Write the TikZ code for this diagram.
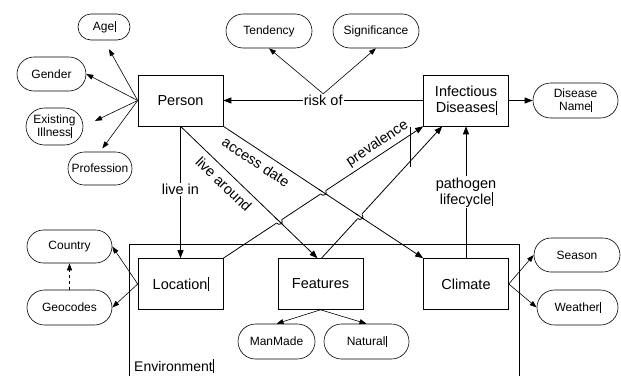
\documentclass[tikz,border=0pt]{standalone}
\usepackage{fontspec}
\setmainfont{Liberation Sans}
\usetikzlibrary{arrows.meta,shapes.misc,calc,intersections}
\newcommand\crsr{\kern0.3pt\rule[-0.12em]{0.5pt}{0.95em}}
\newcommand\hopover[5]{% #1 crossing, #2,#3 ends of hopping line, #4,#5 ends of other line
  \path coordinate (hpA) at ($(#1)!3pt!(#2)$) coordinate (hpB) at ($(#1)!3pt!(#3)$);
  \path coordinate (hpC) at ($(hpA)!4pt!-90:(#1)$) coordinate (hpD) at ($(hpB)!4pt!90:(#1)$);
  \draw[white, line width=2pt] (hpA) -- (hpB);
  \draw[line width=0.8pt] ($(#1)!5pt!(#4)$) -- ($(#1)!5pt!(#5)$);
  \draw[line width=0.8pt] (hpA) .. controls (hpC) and (hpD) .. (hpB);
}
\begin{document}
\begin{tikzpicture}[x=1pt,y=-1pt,
  box/.style={draw, line width=0.6pt, minimum width=85pt, minimum height=51pt, inner sep=0pt, font=\fontsize{14.5}{16}\selectfont, align=center},
  attr/.style={draw, rounded rectangle, line width=0.6pt, inner sep=0pt, font=\fontsize{12}{13.5}\selectfont, align=center},
  con/.style={line width=0.8pt, -{Triangle[length=8pt,width=6pt]}},
  thinar/.style={line width=0.6pt, -{Triangle[length=7pt,width=5pt]}},
  lbl/.style={font=\fontsize{14.5}{16}\selectfont, fill=white, inner sep=1pt},
  slbl/.style={font=\fontsize{14.5}{16}\selectfont, inner sep=1pt}
]
\useasboundingbox (0,0) rectangle (621,375);

% environment frame
\draw[line width=0.6pt] (129,380) -- (129,244) -- (519,244) -- (519,380);
\node[anchor=base west, inner sep=0pt, font=\fontsize{14}{16}\selectfont] (envlabel) at (134,371) {Environment\crsr};

% main boxes
\node[box] (Person) at (180.5,100.5) {Person};
\node[box] (Infectious) at (466,100.5) {Infectious\\Diseases\crsr};
\node[box] (Location) at (180.5,284) {Location\crsr};
\node[box] (Features) at (320.5,284) {Features};
\node[box] (Climate) at (466,284) {Climate};

% attributes
\node[attr, minimum width=52pt, minimum height=26pt] (Age) at (104,27) {Age\crsr};
\node[attr, minimum width=69pt, minimum height=34pt] (Gender) at (51.5,74) {Gender};
\node[attr, minimum width=57pt, minimum height=37pt] (Illness) at (54.5,126.5) {Existing\\Illness\crsr};
\node[attr, minimum width=64pt, minimum height=33pt] (Profession) at (100,168.5) {Profession};
\node[attr, minimum width=86pt, minimum height=34pt] (Tendency) at (269,31) {Tendency};
\node[attr, minimum width=86pt, minimum height=34pt] (Significance) at (376,31) {Significance};
\node[attr, minimum width=85pt, minimum height=35pt] (DName) at (575.5,100.5) {Disease\\Name\crsr};
\node[attr, minimum width=85pt, minimum height=33pt] (Country) at (69.5,246.5) {Country};
\node[attr, minimum width=85pt, minimum height=35pt] (Geocodes) at (69.5,307.5) {Geocodes};
\node[attr, minimum width=77pt, minimum height=35pt] (ManMade) at (276.5,341.5) {ManMade};
\node[attr, minimum width=85pt, minimum height=35pt] (Natural) at (366.5,341.5) {Natural\crsr};
\node[attr, minimum width=86pt, minimum height=34pt] (Season) at (577,255) {Season};
\node[attr, minimum width=81pt, minimum height=35pt] (Weather) at (577.5,307.5) {Weather\crsr};

% relations
\draw[con] (Infectious.west) -- node[lbl] (risk) {risk of} (Person.east);
\draw[thinar] (risk.north) -- (Tendency.south);
\draw[thinar] (risk.north) -- (Significance.south);
\draw[con] (Infectious.east) -- (DName.west);

\draw[con] (Person.south) -- node[lbl, pos=0.48] {live in} (Location.north);
\draw[con, name path=la] (Person.south) -- ($(Features.north)+(-3,0)$)
  node[slbl, sloped, below=5pt, pos=0.375] {live around};
\draw[con, name path=ad] (Person.south east) -- (Climate.north west)
  node[slbl, sloped, below=5pt, pos=0.196] {access date};
\draw[con, name path=pv] (Location.north east) -- (Infectious.south west)
  node[slbl, sloped, above=2.5pt, pos=0.80] {prevalence};
\draw[con, name path=fi] ($(Features.north)+(1,0)$) -- ($(Infectious.south west)+(19,0)$);
\draw[con] (Climate.north) -- node[lbl, align=center] {pathogen\\lifecycle\crsr} (Infectious.south);
\draw[line width=0.5pt] (410,127) -- (410,167);

% hops
\path[name intersections={of=la and pv, by=X1}];
\path[name intersections={of=ad and pv, by=X2}];
\path[name intersections={of=ad and fi, by=X3}];
\hopover{X1}{Location.north east}{Infectious.south west}{Person.south}{Features.north}
\hopover{X2}{Location.north east}{Infectious.south west}{Person.south east}{Climate.north west}
\hopover{X3}{Features.north}{Infectious.south}{Person.south east}{Climate.north west}

% person attributes
\draw[thinar, shorten >=10pt] (Person.west) -- (Age.south);
\draw[thinar] (Person.west) -- (Gender.east);
\draw[thinar, shorten >=13pt] (Person.west) -- (Illness.east);
\draw[thinar, shorten >=4pt] (Person.west) -- (Profession.north);

% location attributes
\draw[thinar] (Location.west) -- (Country.east);
\draw[thinar] (Location.west) -- (Geocodes.east);
\draw[thinar, dashed] (Geocodes.north) -- (Country.south);

% features / climate attributes
\draw[thinar] (Features.south) -- (ManMade.north);
\draw[thinar] (Features.south) -- (Natural.north);
\draw[thinar] (Climate.east) -- (Season.west);
\draw[thinar] (Climate.east) -- (Weather.west);
\end{tikzpicture}
\end{document}
